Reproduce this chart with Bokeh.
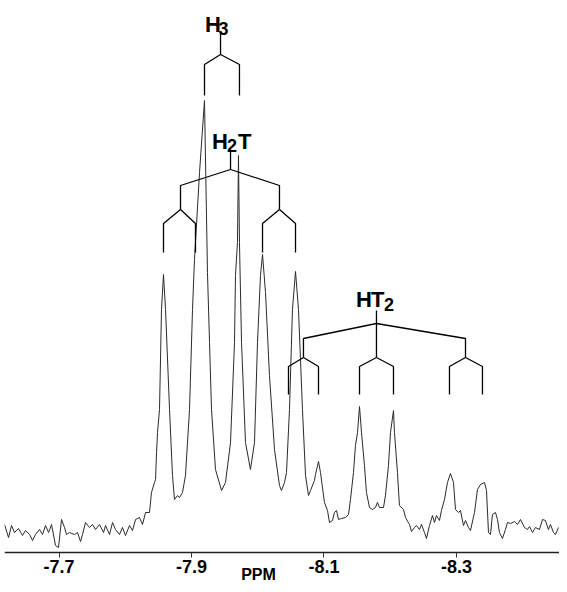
from bokeh.plotting import figure
from bokeh.models import Range1d, FixedTicker
from bokeh.core.properties import value
from bokeh.embed import file_html
from bokeh.resources import INLINE

# ---- spectrum (chemical shift in ppm, intensity in arbitrary units) ----
ppm = [
    -7.6177, -7.6238, -7.6283, -7.6328, -7.6389, -7.6449, -7.6494, -7.6555, -7.6600, -7.6645,
    -7.6706, -7.6751, -7.6796, -7.6842, -7.6887, -7.6947, -7.6992, -7.7038, -7.7083, -7.7113,
    -7.7158, -7.7234, -7.7279, -7.7325, -7.7355, -7.7400, -7.7460, -7.7506, -7.7551, -7.7611,
    -7.7672, -7.7702, -7.7762, -7.7808, -7.7853, -7.7913, -7.7958, -7.8004, -7.8064, -7.8109,
    -7.8155, -7.8215, -7.8260, -7.8306, -7.8366, -7.8396, -7.8441, -7.8457, -7.8472, -7.8487,
    -7.8517, -7.8547,
    -7.8577, -7.8608, -7.8668, -7.8713, -7.8743, -7.8789, -7.8819, -7.8864, -7.8909, -7.8970,
    -7.9015, -7.9045, -7.9121, -7.9196, -7.9241, -7.9272, -7.9302, -7.9362, -7.9453, -7.9513,
    -7.9589, -7.9649, -7.9664, -7.9694, -7.9709, -7.9724, -7.9755, -7.9815, -7.9890, -7.9951,
    -7.9996, -8.0041, -8.0072, -8.0117, -8.0177, -8.0253, -8.0328, -8.0358, -8.0404, -8.0434,
    -8.0479, -8.0524, -8.0570, -8.0615, -8.0675, -8.0721, -8.0766, -8.0796, -8.0856, -8.0872,
    -8.0917, -8.0947, -8.1007, -8.1053, -8.1083, -8.1128, -8.1158, -8.1189, -8.1219, -8.1264,
    -8.1324, -8.1370, -8.1400, -8.1445, -8.1475, -8.1506, -8.1536, -8.1566, -8.1611, -8.1641,
    -8.1687, -8.1732, -8.1777, -8.1807, -8.1838, -8.1898, -8.1928, -8.1973, -8.2004, -8.2049,
    -8.2064, -8.2109, -8.2139, -8.2200, -8.2230, -8.2290, -8.2321, -8.2366, -8.2396, -8.2441,
    -8.2472, -8.2517, -8.2547, -8.2592, -8.2638, -8.2668, -8.2698, -8.2743, -8.2773, -8.2819,
    -8.2864, -8.2909, -8.2955, -8.2985, -8.3030, -8.3060, -8.3105, -8.3136, -8.3181, -8.3211,
    -8.3272, -8.3317, -8.3362, -8.3423, -8.3453, -8.3483, -8.3513, -8.3543, -8.3589, -8.3619,
    -8.3649, -8.3694, -8.3739, -8.3770, -8.3815, -8.3875, -8.3921, -8.3966, -8.4026, -8.4072,
    -8.4102, -8.4147, -8.4192, -8.4253, -8.4298, -8.4343, -8.4388, -8.4419, -8.4464, -8.4494,
    -8.4540,
]
intensity = [
    28, 15, 27, 20, 24, 17, 22, 18, 12, 18,
    23, 18, 27, 20, 28, 7, 5, 33, 25, 18,
    20, 18, 20, 11, 18, 30, 25, 28, 23, 28,
    20, 27, 18, 30, 23, 18, 25, 17, 27, 22,
    33, 35, 28, 40, 40, 60, 70, 73, 100, 120,
    143, 243,
    278, 243, 143, 77, 53, 57, 55, 60, 77, 143,
    243, 293, 380, 452, 280, 210, 143, 83, 62, 70,
    110, 210, 277, 310, 397, 310, 210, 110, 83, 110,
    210, 277, 298, 260, 177, 103, 67, 62, 70, 80,
    143, 243, 281, 243, 143, 77, 57, 62, 72, 78,
    91, 80, 50, 42, 30, 32, 40, 42, 33, 34,
    35, 38, 53, 80, 107, 120, 146, 120, 87, 60,
    45, 43, 45, 50, 45, 45, 57, 87, 120, 142,
    120, 80, 47, 43, 35, 28, 21, 25, 27, 23,
    28, 20, 14, 27, 37, 30, 37, 32, 42, 53,
    70, 79, 70, 43, 40, 42, 27, 32, 25, 22,
    40, 63, 68, 70, 62, 20, 18, 38, 40, 33,
    20, 14, 23, 30, 29, 31, 28, 33, 25, 23,
    26, 20, 25, 23, 33, 32, 23, 28, 20, 18,
    25,
]
assert len(ppm) == len(intensity)

tick_values = [-7.7, -7.9, -8.1, -8.3]
tick_labels = ["-7.7", "-7.9", "-8.1", "-8.3"]

# ---- splitting diagrams (line positions in ppm) ----
h3_root = -7.9438
h3_level1 = [-7.9196, -7.9724]
h2t_root = -7.9589
h2t_level1 = [-7.8834, -8.0328]
h2t_level2 = [[-7.8577, -7.9060], [-8.0072, -8.0570]]
ht2_root = -8.1792
ht2_level1 = [-8.0690, -8.1792, -8.3136]
ht2_level2 = [[-8.0464, -8.0917], [-8.1536, -8.2049], [-8.2894, -8.3392]]

FONT = "Liberation Sans"

p = figure(width=559, height=584, output_backend="svg", toolbar_location=None,
           x_range=Range1d(-7.6177, -8.4555), y_range=Range1d(-32, 552),
           y_axis_location=None,
           min_border_left=4, min_border_right=0, min_border_top=0, min_border_bottom=0)
p.outline_line_color = None
p.grid.visible = False
p.background_fill_color = "white"

# spectrum trace
p.line(ppm, intensity, line_color="#2a2a2a", line_width=1.0)


def tree(root, top, node, levels):
    xs, ys = [[root, root]], [[top, node]]
    parents, parent_y = [root], node
    for groups, knee, bottom in levels:
        new_parents = []
        for parent, children in zip(parents, groups):
            for c in children:
                xs.append([parent, c, c])
                ys.append([parent_y, knee, bottom])
                new_parents.append(c)
        parents, parent_y = new_parents, bottom
    return xs, ys


trees = [
    tree(h3_root, 519, 498, [([h3_level1], 488, 457)]),
    tree(h2t_root, 403, 383, [([h2t_level1], 367, 343), (h2t_level2, 329, 300)]),
    tree(ht2_root, 242, 229, [([ht2_level1], 214, 195), (ht2_level2, 186, 158)]),
]
for xs, ys in trees:
    p.multi_line(xs, ys, line_color="black", line_width=1.3)


def chem_label(root, y, parts):
    for txt, size, dy, dx in parts:
        p.text(x=[root], y=[y + dy], text=[txt], text_font=value(FONT),
               text_font_style="bold", text_font_size=size, text_color="black",
               text_align="left", text_baseline="alphabetic", x_offset=dx)


chem_label(h3_root, 528, [("H", "22px", 0, -15.5), ("3", "18px", -4, -2)])
chem_label(h2t_root, 411, [("H", "22px", 0, -18.5), ("2", "18px", -4, -3.5), ("T", "22px", 0, 7.5)])
chem_label(ht2_root, 253, [("H", "22px", 0, -20.5), ("T", "22px", 0, -5.5), ("2", "18px", -5, 7.5)])

# x axis, drawn at zero intensity
ax = p.xaxis[0]
ax.fixed_location = 0
ax.ticker = FixedTicker(ticks=tick_values)
ax.major_label_overrides = {v: s for v, s in zip(tick_values, tick_labels)}
ax.major_label_text_font = FONT
ax.major_label_text_font_style = "bold"
ax.major_label_text_font_size = "18px"
ax.major_label_text_color = "black"
ax.major_label_standoff = 2
ax.major_tick_in = 0
ax.major_tick_out = 5
ax.major_tick_line_color = "#333333"
ax.minor_tick_line_color = None
ax.axis_line_color = "#222222"
ax.axis_line_width = 1.3

# axis title
p.text(x=[-8.0011], y=[-13], text=["PPM"], text_font=value(FONT), text_font_style="bold",
       text_font_size="16px", text_color="black", text_align="center", text_baseline="top")

open("out.html", "w").write(file_html(p, INLINE))
